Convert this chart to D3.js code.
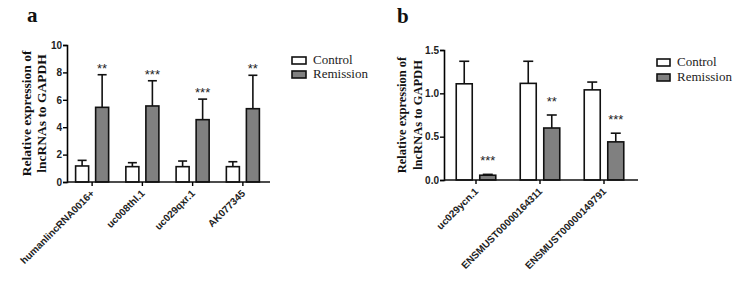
<!DOCTYPE html>
<html>
<head>
<meta charset="utf-8">
<script src="https://cdn.jsdelivr.net/npm/d3@7"></script>
<style>
  body { margin: 0; background: #fff; }
  svg { display: block; }
</style>
</head>
<body>
<svg id="chart"></svg>
<script>
// ---- data, panel a ----
var groupsA = ["humanlincRNA0016+", "uc008thl.1", "uc029qxr.1", "AK077345"];
var controlA = [1.17, 1.12, 1.12, 1.12];
var controlErrA = [0.41, 0.29, 0.41, 0.36];
var remissionA = [5.45, 5.55, 4.55, 5.35];
var remissionErrA = [2.38, 1.84, 1.5, 2.44];
var starsA = ["**", "***", "***", "**"];
var ticksA = [0, 2, 4, 6, 8, 10];

// ---- data, panel b ----
var groupsB = ["uc029ycn.1", "ENSMUST00000164311", "ENSMUST00000149791"];
var controlB = [1.11, 1.115, 1.04];
var controlErrB = [0.26, 0.255, 0.09];
var remissionB = [0.055, 0.6, 0.44];
var remissionErrB = [0.01, 0.15, 0.1];
var starsB = ["***", "**", "***"];
var ticksB = [0, 0.5, 1.0, 1.5];

var series = ["Control", "Remission"];
var fills = ["#ffffff", "#808080"];

var serif = "'Liberation Serif', 'Times New Roman', serif";
var sans = "'Liberation Sans', Arial, sans-serif";

var svg = d3.select("#chart").attr("width", 736).attr("height", 281);

function drawPanel(p) {
    var g = svg.append("g");

    var x = d3.scaleBand().domain(p.groups).range(p.xRange);
    var xi = d3.scaleBand().domain(series).range([0, x.bandwidth()])
        .paddingInner(p.padIn).paddingOuter(p.padOut);
    var y = d3.scaleLinear().domain([0, p.ticks[p.ticks.length - 1]]).range(p.yRange);

    var rows = [];
    p.groups.forEach(function(name, i) {
        rows.push({ group: name, s: 0, v: p.control[i], e: p.controlErr[i] });
        rows.push({ group: name, s: 1, v: p.remission[i], e: p.remissionErr[i], star: p.stars[i] });
    });

    var cx = d => x(d.group) + xi(series[d.s]) + xi.bandwidth() / 2;

    // error bars (upward only)
    var eb = g.selectAll(".err").data(rows).enter().append("g").attr("class", "err");
    eb.append("line")
        .attr("x1", cx).attr("x2", cx)
        .attr("y1", d => y(d.v))
        .attr("y2", d => y(d.v + d.e))
        .attr("stroke", "#111").attr("stroke-width", 1.6);
    eb.append("line")
        .attr("x1", d => cx(d) - p.cap / 2)
        .attr("x2", d => cx(d) + p.cap / 2)
        .attr("y1", d => y(d.v + d.e))
        .attr("y2", d => y(d.v + d.e))
        .attr("stroke", "#111").attr("stroke-width", 1.6);

    // bars
    g.selectAll(".bar").data(rows).enter().append("rect")
        .attr("x", d => x(d.group) + xi(series[d.s]))
        .attr("y", d => y(d.v))
        .attr("width", xi.bandwidth())
        .attr("height", d => y(0) - y(d.v))
        .attr("fill", d => fills[d.s])
        .attr("stroke", "#111")
        .attr("stroke-width", 1.6);

    // significance stars
    g.selectAll(".star").data(rows.filter(d => d.star)).enter().append("text")
        .attr("x", cx)
        .attr("y", d => y(d.v + d.e) - p.starGap)
        .attr("text-anchor", "middle")
        .attr("font-family", sans)
        .attr("font-size", 13)
        .attr("fill", "#222")
        .text(d => d.star);

    // y axis
    var ya = g.append("g")
        .attr("transform", "translate(" + p.xRange[0] + ",0)")
        .call(d3.axisLeft(y).tickValues(p.ticks).tickSize(4).tickPadding(1)
            .tickFormat(p.fmt));
    ya.select(".domain").attr("stroke-width", 1.6);
    ya.selectAll(".tick line").attr("stroke-width", 1.4);
    ya.selectAll(".tick text")
        .attr("font-family", sans)
        .attr("font-weight", "bold")
        .attr("font-size", 10)
        .attr("fill", "#222");

    // x axis
    g.append("line")
        .attr("x1", p.xRange[0]).attr("x2", p.xEnd)
        .attr("y1", y(0)).attr("y2", y(0))
        .attr("stroke", "#111").attr("stroke-width", 1.6);
    var xa = g.append("g")
        .attr("transform", "translate(0," + y(0) + ")")
        .call(d3.axisBottom(x).tickSize(4).tickSizeOuter(0));
    xa.select(".domain").remove();
    xa.selectAll(".tick line").attr("stroke-width", 1.4);
    xa.selectAll(".tick text")
        .attr("font-family", sans)
        .attr("font-weight", "bold")
        .attr("font-size", 10)
        .attr("fill", "#222")
        .attr("text-anchor", "end")
        .attr("dy", null)
        .attr("y", 0)
        .attr("transform", "translate(3,12) rotate(-45)");

    // y axis title (two lines)
    var cy = (p.yRange[0] + p.yRange[1]) / 2;
    p.yTitle.forEach(function(t, i) {
        g.append("text")
            .attr("transform", "translate(" + (p.xRange[0] - p.titleOff[i]) + "," + cy + ") rotate(-90)")
            .attr("text-anchor", "middle")
            .attr("font-family", serif)
            .attr("font-weight", "bold")
            .attr("font-size", p.titleSize)
            .attr("fill", "#111")
            .text(t);
    });

    // panel letter
    g.append("text")
        .attr("x", p.letterPos[0]).attr("y", p.letterPos[1])
        .attr("font-family", serif)
        .attr("font-weight", "bold")
        .attr("font-size", 21)
        .attr("fill", "#111")
        .text(p.letter);

    // legend
    var lg = g.append("g").attr("transform", "translate(" + p.legendPos[0] + "," + p.legendPos[1] + ")");
    series.forEach(function(s, i) {
        lg.append("rect")
            .attr("x", 0).attr("y", i * p.legendStep)
            .attr("width", p.legendBox[0]).attr("height", p.legendBox[1])
            .attr("fill", fills[i]).attr("stroke", "#111").attr("stroke-width", 1.6);
        lg.append("text")
            .attr("x", p.legendBox[0] + 7).attr("y", i * p.legendStep + 7)
            .attr("font-family", serif)
            .attr("font-size", 13)
            .attr("fill", "#222")
            .text(s);
    });
}

drawPanel({
    groups: groupsA, control: controlA, controlErr: controlErrA,
    remission: remissionA, remissionErr: remissionErrA, stars: starsA, ticks: ticksA,
    fmt: d3.format("d"),
    xRange: [67, 268], xEnd: 270, yRange: [182, 45],
    padIn: 0.35, padOut: 0.43, cap: 9, starGap: 2,
    yTitle: ["Relative expression of", "lncRNAs to GAPDH"], titleOff: [36, 21], titleSize: 13.5,
    letter: "a", letterPos: [27, 22],
    legendPos: [292, 57], legendBox: [14, 7], legendStep: 14
});

drawPanel({
    groups: groupsB, control: controlB, controlErr: controlErrB,
    remission: remissionB, remissionErr: remissionErrB, stars: starsB, ticks: ticksB,
    fmt: d3.format(".1f"),
    xRange: [444, 636], xEnd: 638, yRange: [180, 50],
    padIn: 0.32, padOut: 0.52, cap: 10, starGap: 9,
    yTitle: ["Relative expression of", "lncRNAs to GAPDH"], titleOff: [38, 22], titleSize: 12.5,
    letter: "b", letterPos: [397, 23],
    legendPos: [657, 59], legendBox: [13, 7], legendStep: 15
});
</script>
</body>
</html>
